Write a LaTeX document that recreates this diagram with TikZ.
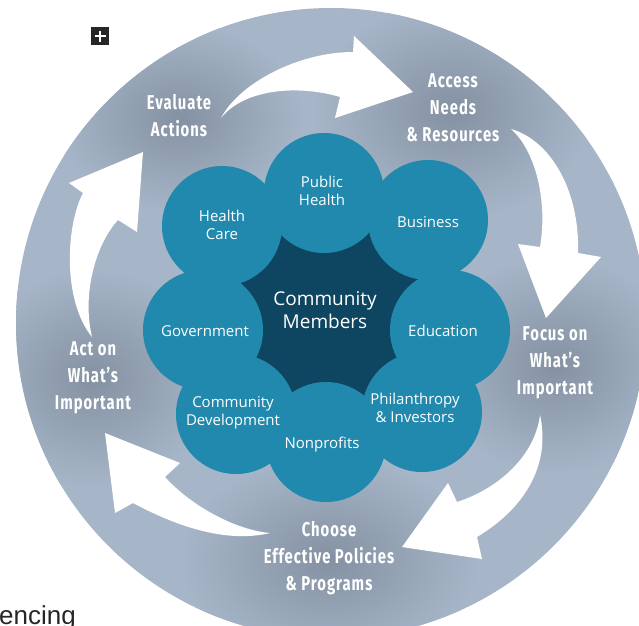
\documentclass[tikz,border=0pt]{standalone}
\usepackage{fontspec}
\setmainfont{Open Sans}
\newfontfamily\stepfont[FakeStretch=0.74, LetterSpace=5]{Fira Sans}
\newfontfamily\pagefont{Liberation Sans}
\definecolor{discblue}{HTML}{A6B6C8}
\definecolor{halogray}{HTML}{8491A2}
\definecolor{petalteal}{HTML}{2189AD}
\definecolor{coredark}{HTML}{0E4560}
\tikzstyle{petal} = [circle, fill=petalteal, minimum size=120pt, inner sep=0pt]
\tikzstyle{petaltext} = [text=white, align=center, font=\fontsize{15}{18}\selectfont]
\tikzstyle{steptext} = [text=white, align=center, font=\stepfont\bfseries\fontsize{20}{27}\selectfont]
\tikzstyle{cycarrow} = [fill=white]
\newcommand{\halo}[2]{\shade[inner color=halogray, outer color=discblue] #1 ellipse #2;}

\begin{document}
\begin{tikzpicture}[x=1pt, y=-1pt]
\useasboundingbox (0,0) rectangle (639,625);

% Disc and halos
\fill[discblue] (331,323) circle (315);
\begin{scope}
\clip (331,323) circle (315);
\halo{(179,118)}{(125 and 95)}
\halo{(453,110)}{(140 and 110)}
\halo{(555,365)}{(125 and 110)}
\halo{(329,560)}{(150 and 105)}
\halo{(93,378)}{(125 and 110)}
\end{scope}

% Arrows
\fill[cycarrow] (221,118) .. controls (240,82) and (300,52) .. (353,52) -- (354,36)
  -- (413,92) -- (335,118) -- (340,97) .. controls (300,85) and (245,88) .. cycle;
\fill[cycarrow] (511,129) .. controls (550,140) and (580,190) .. (578,253) -- (601,257)
  -- (546,318) -- (518,244) -- (540,247) .. controls (548,200) and (535,150) .. cycle;
\fill[cycarrow] (540,415) .. controls (550,460) and (530,505) .. (477,537) -- (482,559)
  -- (402,547) -- (448,483) -- (457,502) .. controls (500,488) and (535,455) .. cycle;
\fill[cycarrow] (270,533) .. controls (220,545) and (165,520) .. (133,503) -- (115,513)
  -- (105,433) -- (180,463) -- (165,477) .. controls (190,505) and (235,530) .. cycle;
\fill[cycarrow] (92,337) .. controls (62,300) and (66,225) .. (83,193) -- (69,183)
  -- (143,152) -- (137,232) -- (118,220) .. controls (95,245) and (82,295) .. cycle;

% Flower
\fill[coredark] (326,318) circle (100);
\node[petal] (ph)  at (324,193) {};
\node[petal] (hc)  at (222,226) {};
\node[petal] (bus) at (428,220) {};
\node[petal] (gov) at (203,330) {};
\node[petal] (edu) at (450,330) {};
\node[petal] (cd)  at (236,414) {};
\node[petal] (phi) at (422,412) {};
\node[petal] (np)  at (326,442) {};

% Labels
\node[petaltext] at (322,191) {Public\\Health};
\node[petaltext] at (222,225) {Health\\Care};
\node[petaltext] at (428,222) {Business};
\node[petaltext] at (205,331) {Government};
\node[petaltext] at (443,331) {Education};
\node[petaltext] at (233,413) {Community\\Development};
\node[petaltext] at (415,408) {Philanthropy\\\& Investors};
\node[petaltext] at (322,445) {Nonprofits};
\node[petaltext, font=\fontsize{19}{23}\selectfont] (core) at (325,310) {Community\\Members};

\node[steptext] (eval)   at (179,116) {Evaluate\\Actions};
\node[steptext] (access) at (453,108) {Access\\Needs\\\& Resources};
\node[steptext] (focus)  at (555,363) {Focus on\\What’s\\Important};
\node[steptext] (choose) at (329,558) {Choose\\Effective Policies\\\& Programs};
\node[steptext] (act)    at (93,378)  {Act on\\What’s\\Important};

% Page bits
\fill[black!85] (91,27) rectangle (109,45);
\draw[white, line width=2pt] (94.5,36) -- (105.5,36) (100,30.5) -- (100,41.5);
\node[anchor=base west, inner sep=0pt, text=black!85, font=\pagefont\fontsize{26}{26}\selectfont] (cut) at (-1,624) {encing};

\end{tikzpicture}
\end{document}
